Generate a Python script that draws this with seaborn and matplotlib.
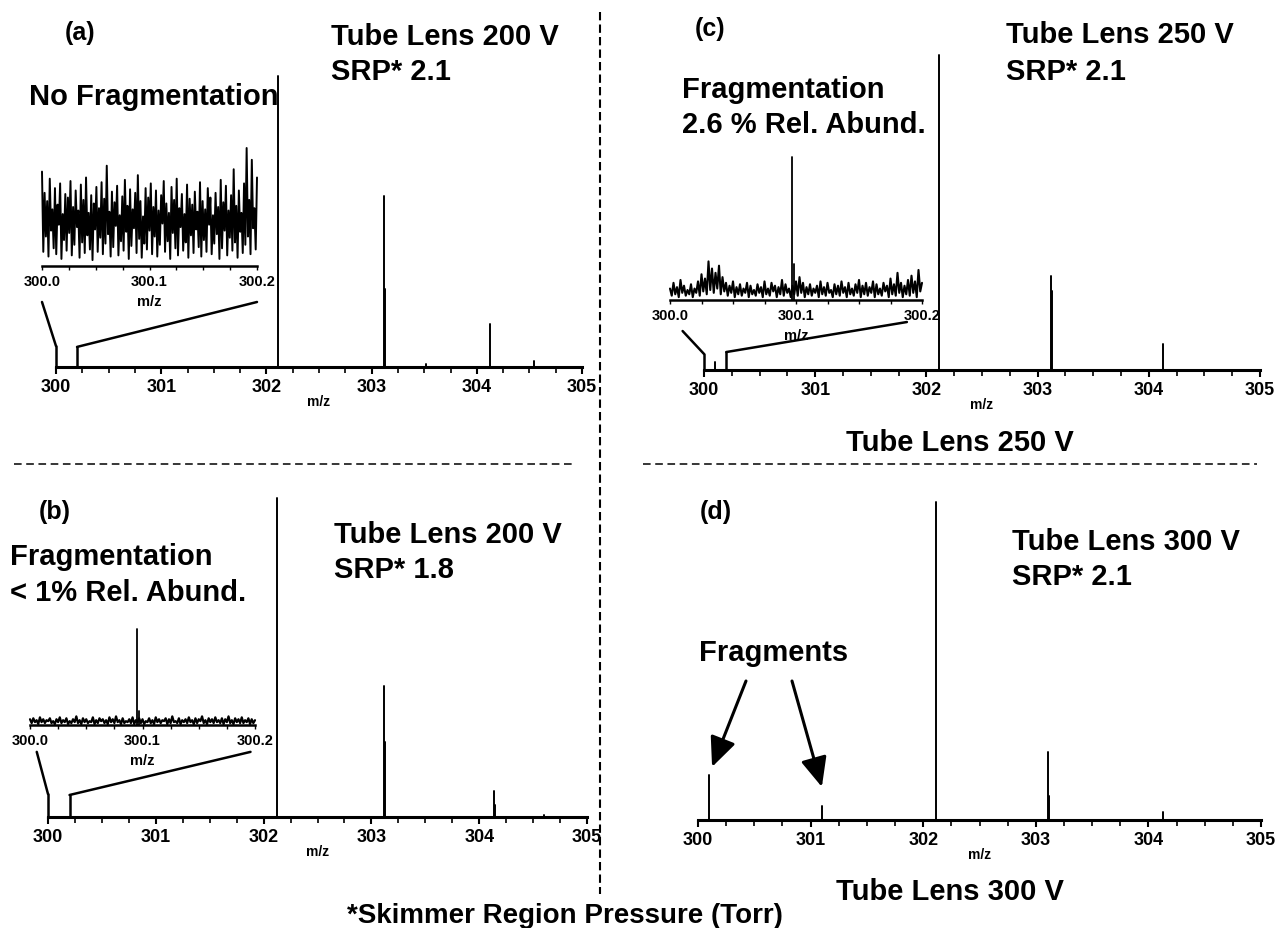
import numpy as np
import pandas as pd
import seaborn as sns
import matplotlib.pyplot as plt
from matplotlib.lines import Line2D
from matplotlib.patches import ConnectionPatch
from matplotlib.ticker import MultipleLocator

# stick spectra (relative abundance, 302.1 = 100)
peaks_a_mz = [302.11, 303.12, 303.125, 303.52, 304.13, 304.54]
peaks_a_int = [100, 58.8, 26.8, 1.0, 14.8, 2.0]
peaks_b_mz = [302.12, 303.12, 303.125, 304.14, 304.145, 304.6]
peaks_b_int = [100, 41.0, 23.5, 8.2, 3.8, 0.6]
peaks_c_mz = [300.10, 302.11, 303.12, 303.125, 304.13]
peaks_c_int = [2.6, 100, 29.8, 25.0, 8.3]
peaks_d_mz = [300.10, 301.10, 302.11, 303.11, 303.115, 304.13]
peaks_d_int = [14.2, 4.4, 100, 21.4, 7.5, 2.5]

main_ticks = [300, 301, 302, 303, 304, 305]
inset_ticks = [300.0, 300.1, 300.2]
inset_labels = ['300.0', '300.1', '300.2']

# zoomed 300.0 - 300.2 region (inset scale)
noise_a = [0.80, 0.12, 0.62, 0.25, 0.55, 0.08, 0.74, 0.30, 0.48, 0.15, 0.66, 0.10, 0.52, 0.35, 0.70, 0.06,
           0.44, 0.22, 0.61, 0.13, 0.58, 0.28, 0.72, 0.09, 0.50, 0.18, 0.64, 0.33, 0.47, 0.07, 0.69, 0.20,
           0.56, 0.11, 0.75, 0.26, 0.45, 0.14, 0.60, 0.05, 0.53, 0.31, 0.67, 0.12, 0.49, 0.24, 0.71, 0.10,
           0.57, 0.19, 0.85, 0.27, 0.46, 0.08, 0.63, 0.16, 0.54, 0.34, 0.68, 0.09, 0.43, 0.21, 0.59, 0.13,
           0.73, 0.29, 0.51, 0.06, 0.65, 0.17, 0.48, 0.32, 0.62, 0.11, 0.77, 0.23, 0.55, 0.07, 0.42, 0.19,
           0.66, 0.14, 0.58, 0.30, 0.70, 0.10, 0.50, 0.25, 0.64, 0.08, 0.47, 0.18, 0.60, 0.36, 0.72, 0.12,
           0.53, 0.21, 0.45, 0.06, 0.67, 0.28, 0.56, 0.15, 0.74, 0.09, 0.49, 0.33, 0.61, 0.13, 0.44, 0.20,
           0.69, 0.07, 0.57, 0.26, 0.52, 0.11, 0.63, 0.31, 0.46, 0.16, 0.71, 0.08, 0.55, 0.22, 0.48, 0.12,
           0.66, 0.35, 0.58, 0.10, 0.43, 0.19, 0.62, 0.27, 0.50, 0.06, 0.73, 0.15, 0.54, 0.30, 0.68, 0.09,
           0.47, 0.24, 0.60, 0.13, 0.82, 0.20, 0.51, 0.07, 0.64, 0.29, 0.45, 0.11, 0.70, 0.18, 1.00, 0.25,
           0.56, 0.10, 0.90, 0.32, 0.49, 0.14, 0.75]
noise_b = [0.06, 0.02, 0.07, 0.03, 0.05, 0.01, 0.08, 0.03, 0.06, 0.02, 0.05, 0.04, 0.07, 0.02, 0.04, 0.01,
           0.06, 0.03, 0.08, 0.02, 0.05, 0.03, 0.07, 0.01, 0.04, 0.02, 0.06, 0.03, 0.09, 0.02, 0.05, 0.01,
           0.07, 0.03, 0.06, 0.02, 0.04, 0.03, 0.08, 0.01, 0.05, 0.02, 0.07, 0.04, 0.06, 0.02, 0.05, 0.01,
           0.08, 0.03, 0.06, 0.02, 0.09, 0.03, 0.05, 0.01, 0.07, 0.02, 0.04, 0.03, 0.06, 0.02, 0.08, 0.01,
           0.05, 0.03, 0.07, 0.02, 0.06, 0.01, 0.04, 0.03, 0.07, 0.02, 0.05, 0.01, 0.08, 0.03, 0.06, 0.02,
           0.05, 0.04, 0.07, 0.01, 0.06, 0.02, 0.09, 0.03, 0.04, 0.02, 0.07, 0.01, 0.05, 0.03, 0.06, 0.02,
           0.08, 0.03, 0.05, 0.01, 0.07, 0.02, 0.06, 0.04, 0.09, 0.02, 0.05, 0.01, 0.07, 0.03, 0.06, 0.02,
           0.08, 0.03, 0.05, 0.02, 0.07, 0.01, 0.06, 0.03, 0.09, 0.02, 0.05, 0.01, 0.07, 0.03, 0.06, 0.02,
           0.08, 0.02, 0.05, 0.03, 0.07, 0.01, 0.06, 0.02, 0.05]
noise_c = [0.08, 0.03, 0.12, 0.04, 0.09, 0.02, 0.14, 0.05, 0.10, 0.03, 0.07, 0.04, 0.11, 0.02, 0.08, 0.05,
           0.13, 0.03, 0.18, 0.06, 0.15, 0.04, 0.27, 0.07, 0.22, 0.05, 0.19, 0.08, 0.24, 0.04, 0.16, 0.06,
           0.12, 0.03, 0.10, 0.05, 0.13, 0.02, 0.09, 0.04, 0.11, 0.03, 0.08, 0.05, 0.12, 0.02, 0.10, 0.04,
           0.07, 0.03, 0.11, 0.05, 0.09, 0.02, 0.13, 0.04, 0.08, 0.03, 0.12, 0.06, 0.10, 0.02, 0.09, 0.04,
           0.14, 0.03, 0.11, 0.05, 0.08, 0.02, 0.10, 0.04, 0.13, 0.03, 0.16, 0.05, 0.12, 0.02, 0.09, 0.04,
           0.11, 0.03, 0.08, 0.05, 0.10, 0.02, 0.13, 0.04, 0.09, 0.03, 0.12, 0.05, 0.07, 0.02, 0.11, 0.04,
           0.10, 0.03, 0.13, 0.05, 0.09, 0.02, 0.12, 0.04, 0.08, 0.03, 0.11, 0.05, 0.14, 0.02, 0.10, 0.04,
           0.12, 0.03, 0.09, 0.05, 0.13, 0.02, 0.11, 0.04, 0.08, 0.03, 0.12, 0.06, 0.10, 0.02, 0.15, 0.04,
           0.11, 0.03, 0.19, 0.05, 0.12, 0.02, 0.10, 0.04, 0.14, 0.03, 0.17, 0.05, 0.13, 0.02, 0.21, 0.06,
           0.12]
spike_b_mz = [300.095, 300.097]
spike_b_int = [1.0, 0.15]
spike_c_mz = [300.097, 300.0985]
spike_c_int = [1.0, 0.25]

W, H = 1278, 929

sns.set_style('white')
plt.rcParams['font.family'] = ['Liberation Sans', 'DejaVu Sans']
plt.rcParams['font.weight'] = 'bold'
plt.rcParams['axes.labelweight'] = 'bold'
plt.rcParams['text.color'] = 'black'
plt.rcParams['axes.labelcolor'] = 'black'
plt.rcParams['xtick.color'] = 'black'

fig = plt.figure(figsize=(W / 100, H / 100), dpi=100)


def fx(x):
    return x / W


def fy(y):
    return 1 - y / H


def box(x0, x1, ybase, ytop):
    return [fx(x0), fy(ybase), (x1 - x0) / W, (ybase - ytop) / H]


def sticks(mz, inten):
    rows = []
    for i, (m, v) in enumerate(zip(mz, inten)):
        rows.append({'mz': m, 'int': 0, 'peak': i})
        rows.append({'mz': m, 'int': v, 'peak': i})
    return pd.DataFrame(rows)


def main_panel(rect, mz, inten):
    ax = fig.add_axes(rect)
    sns.lineplot(data=sticks(mz, inten), x='mz', y='int', units='peak', estimator=None,
                 sort=False, color='k', lw=1.4, ax=ax, legend=False)
    for ln in ax.lines:
        ln.set_clip_on(False)
    ax.set_xlim(300, 305)
    ax.set_ylim(0, 100)
    for s in ['left', 'top', 'right']:
        ax.spines[s].set_visible(False)
    ax.spines['bottom'].set_linewidth(2.2)
    ax.spines['bottom'].set_color('k')
    ax.set_yticks([])
    ax.set_xticks(main_ticks)
    ax.set_xticklabels([str(t) for t in main_ticks], fontsize=13, fontweight='bold')
    ax.xaxis.set_minor_locator(MultipleLocator(0.25))
    ax.tick_params(axis='x', which='major', direction='out', length=5, width=1.5, pad=3, bottom=True)
    ax.tick_params(axis='x', which='minor', direction='out', length=4, width=1.2, bottom=True)
    ax.set_xlabel('m/z', fontsize=10, fontweight='bold', labelpad=-1)
    ax.set_ylabel('')
    ax.patch.set_alpha(0)
    return ax


def inset_panel(rect, noise, top, lw, spike_mz=None, spike_int=None):
    ins = fig.add_axes(rect)
    grid = np.linspace(300.0, 300.2, len(noise))
    sns.lineplot(x=grid, y=noise, color='k', lw=lw, ax=ins)
    if spike_mz is not None:
        sns.lineplot(data=sticks(spike_mz, spike_int), x='mz', y='int', units='peak',
                     estimator=None, sort=False, color='k', lw=1.3, ax=ins, legend=False)
    for ln in ins.lines:
        ln.set_clip_on(False)
    ins.set_xlim(300.0, 300.2)
    ins.set_ylim(0, top)
    for s in ['left', 'top', 'right']:
        ins.spines[s].set_visible(False)
    ins.spines['bottom'].set_linewidth(1.8)
    ins.spines['bottom'].set_color('k')
    ins.set_yticks([])
    ins.set_xticks(inset_ticks)
    ins.set_xticklabels(inset_labels, fontsize=10.5, fontweight='bold')
    ins.xaxis.set_minor_locator(MultipleLocator(0.025))
    ins.tick_params(axis='x', which='both', direction='out', length=3, width=1, pad=3, bottom=True)
    ins.set_xlabel('m/z', fontsize=10.5, fontweight='bold', labelpad=4)
    ins.set_ylabel('')
    ins.patch.set_alpha(0)
    return ins


def zoom_marks(ax, ins, h_left, h_right, ins_left, ins_right):
    ax.plot([300.0, 300.0], [0, h_left], color='k', lw=1.8, clip_on=False)
    ax.plot([300.2, 300.2], [0, h_right], color='k', lw=1.8, clip_on=False)
    for xa, ha, pt in [(300.0, h_left, ins_left), (300.2, h_right, ins_right)]:
        cp = ConnectionPatch(xyA=(xa, ha), coordsA=ax.transData,
                             xyB=pt, coordsB=ins.transAxes, color='k', lw=1.8)
        fig.add_artist(cp)


ax_a = main_panel(box(56, 582, 368, 77), peaks_a_mz, peaks_a_int)
ax_b = main_panel(box(48, 587, 818, 499), peaks_b_mz, peaks_b_int)
ax_c = main_panel(box(704, 1260, 371, 56), peaks_c_mz, peaks_c_int)
ax_d = main_panel(box(698, 1261, 821, 503), peaks_d_mz, peaks_d_int)

in_a = inset_panel(box(42, 257, 267, 149), noise_a, 1.0, 1.4)
in_b = inset_panel(box(30, 255, 726, 630), noise_b, 1.0, 1.6, spike_b_mz, spike_b_int)
in_c = inset_panel(box(670, 922, 301, 158), noise_c, 1.0, 1.5, spike_c_mz, spike_c_int)

zoom_marks(ax_a, in_a, 7.2, 6.9, (0.0, -0.305), (1.0, -0.305))
zoom_marks(ax_b, in_b, 7.2, 6.9, (0.03, -0.28), (0.98, -0.28))
zoom_marks(ax_c, in_c, 5.1, 5.7, (0.05, -0.217), (0.94, -0.154))

big = 21


def label(x, y, s, size=big, ha='left'):
    fig.text(fx(x), fy(y), s, fontsize=size, fontweight='bold', ha=ha, va='center')


label(80, 33, '(a)', 18, 'center')
label(331, 37, 'Tube Lens 200 V')
label(331, 72, 'SRP* 2.1')
label(29, 97, 'No Fragmentation')

label(55, 512, '(b)', 18, 'center')
label(10, 557, 'Fragmentation')
label(10, 593, '< 1% Rel. Abund.')
label(334, 535, 'Tube Lens 200 V')
label(334, 570, 'SRP* 1.8')

label(710, 29, '(c)', 18, 'center')
label(1006, 35, 'Tube Lens 250 V')
label(1006, 72, 'SRP* 2.1')
label(682, 90, 'Fragmentation')
label(682, 125, '2.6 % Rel. Abund.')
label(960, 443, 'Tube Lens 250 V', ha='center')

label(716, 512, '(d)', 18, 'center')
label(1012, 542, 'Tube Lens 300 V')
label(1012, 577, 'SRP* 2.1')
label(699, 653, 'Fragments')
label(950, 892, 'Tube Lens 300 V', ha='center')

label(565, 916, '*Skimmer Region Pressure (Torr)', 20, 'center')

# arrows to fragment peaks in (d)
for tip, tail in [((300.125, 16.7), (746, 682)), ((301.10, 10.4), (792, 682))]:
    ax_d.annotate('', xy=tip, xycoords='data', xytext=(fx(tail[0]), fy(tail[1])),
                  textcoords='figure fraction',
                  arrowprops=dict(arrowstyle='-|>,head_length=0.9,head_width=0.4',
                                  mutation_scale=20, lw=2.2, color='k', shrinkA=0, shrinkB=0))

# separators
fig.add_artist(Line2D([fx(600), fx(600)], [fy(13), fy(895)], transform=fig.transFigure,
                      color='k', lw=1.5, ls=(0, (4, 2))))
fig.add_artist(Line2D([fx(14), fx(575)], [fy(465), fy(465)], transform=fig.transFigure,
                      color='k', lw=1.1, ls=(0, (5, 3))))
fig.add_artist(Line2D([fx(643), fx(1257)], [fy(465), fy(465)], transform=fig.transFigure,
                      color='k', lw=1.1, ls=(0, (5, 3))))

fig.savefig('out.png', dpi=100)
